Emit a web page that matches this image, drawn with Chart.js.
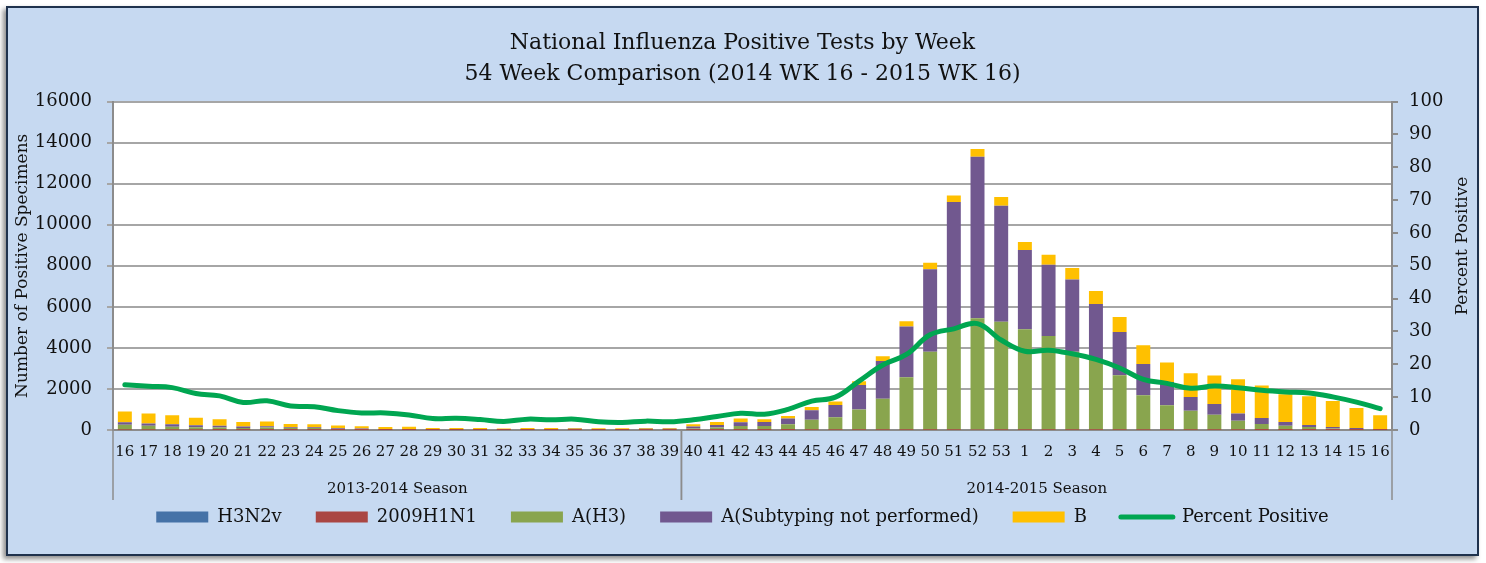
<!DOCTYPE html>
<html>
<head>
<meta charset="utf-8">
<title>National Influenza Positive Tests by Week</title>
<script src="https://cdn.jsdelivr.net/npm/chart.js@4/dist/chart.umd.min.js"></script>
<style>
	html, body { margin: 0; padding: 0; background: #ffffff; }
	.chart-frame {
		position: absolute;
		left: 6px;
		top: 6px;
		width: 1469px;
		height: 546px;
		border: 2px solid #1f324d;
		background: #c6d9f1;
		box-shadow: -3px 3px 5px rgba(0, 0, 0, 0.45);
	}
	canvas { display: block; }
</style>
</head>
<body>
<div class="chart-frame"><canvas id="chart" width="1469" height="546"></canvas></div>
<script>
// week labels, 2014 wk 16 .. 2015 wk 16
const weeks = [
	"16", "17", "18", "19", "20", "21", "22", "23", "24", "25", "26", "27",
	"28", "29", "30", "31", "32", "33", "34", "35", "36", "37", "38", "39",
	"40", "41", "42", "43", "44", "45", "46", "47", "48", "49", "50", "51", "52", "53",
	"1", "2", "3", "4", "5", "6", "7", "8", "9", "10", "11", "12", "13", "14", "15", "16"
];
const seasons = ["2013-2014 Season", "2014-2015 Season"];
const seasonWeekCounts = [24, 30];

const h3n2v = [
	0, 0, 0, 0, 0, 0, 0, 0, 0, 0, 0, 0,
	0, 0, 0, 0, 0, 0, 0, 0, 0, 0, 0, 0,
	0, 0, 0, 0, 0, 0, 0, 0, 0, 0, 0, 0, 0, 0,
	0, 0, 0, 0, 0, 0, 0, 0, 0, 0, 0, 0, 0, 0, 0, 0
];
const h1n1 = [
	12, 10, 9, 8, 6, 5, 5, 4, 4, 3, 3, 2,
	2, 2, 2, 2, 2, 2, 2, 2, 2, 2, 3, 3,
	3, 4, 5, 5, 6, 8, 8, 10, 12, 14, 16, 18, 20, 18,
	16, 14, 12, 12, 10, 10, 9, 8, 8, 7, 6, 6, 5, 5, 4, 4
];
const aH3 = [
	240, 195, 146, 130, 113, 97, 113, 97, 97, 49, 32, 32,
	30, 25, 25, 25, 20, 28, 28, 35, 30, 30, 35, 35,
	65, 113, 195, 195, 276, 486, 616, 989, 1515, 2553, 3793, 4863, 5430, 5252,
	4895, 4571, 3800, 3450, 2658, 1686, 1200, 924, 729, 438, 292, 195, 146, 65, 49, 16
];
const aNotSubtyped = [
	130, 113, 130, 97, 82, 65, 65, 33, 33, 32, 33, 17,
	20, 15, 15, 15, 10, 17, 17, 25, 18, 20, 22, 22,
	97, 130, 178, 194, 275, 470, 600, 1199, 1840, 2472, 4020, 6225, 7862, 5657,
	3858, 3469, 3520, 2677, 2108, 1524, 1134, 681, 535, 356, 292, 194, 97, 81, 48, 33
];
const bType = [
	520, 486, 437, 357, 324, 227, 227, 162, 146, 130, 113, 97,
	110, 57, 57, 57, 35, 52, 52, 37, 33, 31, 40, 40,
	114, 146, 178, 130, 130, 162, 162, 179, 225, 265, 324, 324, 373, 422,
	389, 486, 566, 633, 729, 907, 940, 1151, 1378, 1670, 1572, 1345, 1394, 1264, 973, 664
];
const percentPositive = [
	13.8, 13.3, 12.9, 11.1, 10.4, 8.4, 8.9, 7.3, 7.1, 5.9, 5.2, 5.2,
	4.6, 3.5, 3.6, 3.2, 2.6, 3.3, 3.1, 3.3, 2.5, 2.3, 2.7, 2.5,
	3.1, 4.1, 5.1, 4.8, 6.3, 8.8, 10.0, 14.9, 19.8, 23.0, 29.0, 30.8, 32.4, 27.4,
	24.0, 24.3, 23.2, 21.5, 18.9, 15.4, 14.2, 12.7, 13.4, 12.9, 12.1, 11.6, 11.3, 10.1, 8.5, 6.5
];

const fontFamily = "'DejaVu Serif', 'Liberation Serif', serif";
const textColor = "#111111";
const axisColor = "#8c8c8c";

Chart.defaults.font.family = fontFamily;
Chart.defaults.color = textColor;

// season group labels under the week ticks, plus the right axis title
const seasonAxisPlugin = {
	id: "seasonAxis",
	beforeDraw(chart) {
		const { ctx, chartArea } = chart;
		ctx.save();
		ctx.fillStyle = "#ffffff";
		ctx.fillRect(chartArea.left, chartArea.top, chartArea.width, chartArea.height);
		ctx.restore();
	},
	afterDraw(chart) {
		const { ctx, chartArea } = chart;
		const x = chart.scales.x;
		const half = (x.getPixelForValue(1) - x.getPixelForValue(0)) / 2;
		const bottom = chartArea.bottom;
		ctx.save();
		ctx.strokeStyle = axisColor;
		ctx.lineWidth = 1.5;
		ctx.fillStyle = textColor;
		ctx.font = `15px ${fontFamily}`;
		ctx.textAlign = "center";
		ctx.textBaseline = "middle";
		let start = 0;
		seasons.forEach((name, i) => {
			const end = start + seasonWeekCounts[i] - 1;
			const left = x.getPixelForValue(start) - half;
			const right = x.getPixelForValue(end) + half;
			for (const px of [left, right]) {
				ctx.beginPath();
				ctx.moveTo(px, bottom);
				ctx.lineTo(px, bottom + 70);
				ctx.stroke();
			}
			ctx.fillText(name, (left + right) / 2, bottom + 59);
			start = end + 1;
		});

		ctx.font = `17px ${fontFamily}`;
		ctx.translate(chart.width - 14, 238);
		ctx.rotate(-Math.PI / 2);
		ctx.fillText("Percent Positive", 0, 0);
		ctx.restore();
	}
};

const barDataset = (label, data, color) => ({
	label,
	data,
	backgroundColor: color,
	borderWidth: 0,
	yAxisID: "y",
	stack: "flu",
	order: 1,
	barPercentage: 0.59,
	categoryPercentage: 1
});

new Chart(document.getElementById("chart"), {
	type: "bar",
	data: {
		labels: weeks,
		datasets: [
			barDataset("H3N2v", h3n2v, "#4572a7"),
			barDataset("2009H1N1", h1n1, "#aa4643"),
			barDataset("A(H3)", aH3, "#89a54e"),
			barDataset("A(Subtyping not performed)", aNotSubtyped, "#71588f"),
			barDataset("B", bType, "#ffc000"),
			{
				type: "line",
				label: "Percent Positive",
				data: percentPositive,
				yAxisID: "y1",
				borderColor: "#00a651",
				borderWidth: 5,
				borderCapStyle: "round",
				pointRadius: 0,
				tension: 0.4,
				fill: false,
				order: 0
			}
		]
	},
	options: {
		responsive: false,
		animation: false,
		layout: { padding: { left: 0, right: 0, top: 0, bottom: 18 } },
		plugins: {
			title: {
				display: true,
				text: [
					"National Influenza Positive Tests by Week",
					"54 Week Comparison (2014 WK 16 - 2015 WK 16)"
				],
				color: textColor,
				font: { size: 22, weight: "normal", lineHeight: 1.4 },
				padding: { top: 20, bottom: 12 }
			},
			legend: {
				position: "bottom",
				labels: {
					usePointStyle: true,
					pointStyleWidth: 52,
					boxHeight: 11,
					padding: 34,
					color: textColor,
					font: { size: 18 },
					sort: (a, b) => a.datasetIndex - b.datasetIndex,
					generateLabels(chart) {
						const items = Chart.defaults.plugins.legend.labels.generateLabels(chart);
						for (const item of items) {
							const ds = chart.data.datasets[item.datasetIndex];
							if (ds.type === "line") {
								item.pointStyle = "line";
								item.lineWidth = 5;
								item.strokeStyle = ds.borderColor;
								item.lineCap = "round";
							} else {
								item.pointStyle = "rect";
								item.lineWidth = 0;
							}
						}
						return items;
					}
				}
			},
			tooltip: { enabled: false }
		},
		scales: {
			x: {
				stacked: true,
				grid: { display: false, drawTicks: false },
				border: { display: true, color: axisColor, width: 2 },
				ticks: {
					autoSkip: false,
					maxRotation: 0,
					minRotation: 0,
					padding: 13,
					color: textColor,
					font: { size: 15 }
				},
				afterFit(scale) {
					scale.height = 44;
				}
			},
			y: {
				stacked: true,
				min: 0,
				max: 16000,
				ticks: {
					stepSize: 2000,
					padding: 15,
					color: textColor,
					font: { size: 18 },
					callback: value => String(value)
				},
				grid: { color: "#a6a6a6", lineWidth: 2, tickLength: 6 },
				border: { color: axisColor, width: 2 },
				title: {
					display: true,
					text: "Number of Positive Specimens",
					color: textColor,
					font: { size: 17 },
					padding: { top: 4, bottom: 0 }
				},
				afterFit(scale) {
					scale.width = 105;
				}
			},
			y1: {
				position: "right",
				min: 0,
				max: 100,
				ticks: {
					stepSize: 10,
					padding: 11,
					color: textColor,
					font: { size: 18 }
				},
				grid: { drawOnChartArea: false, color: axisColor, lineWidth: 2, tickLength: 6 },
				border: { color: axisColor, width: 2 },
				afterFit(scale) {
					scale.width = 85;
				}
			}
		}
	},
	plugins: [seasonAxisPlugin]
});
</script>
</body>
</html>
